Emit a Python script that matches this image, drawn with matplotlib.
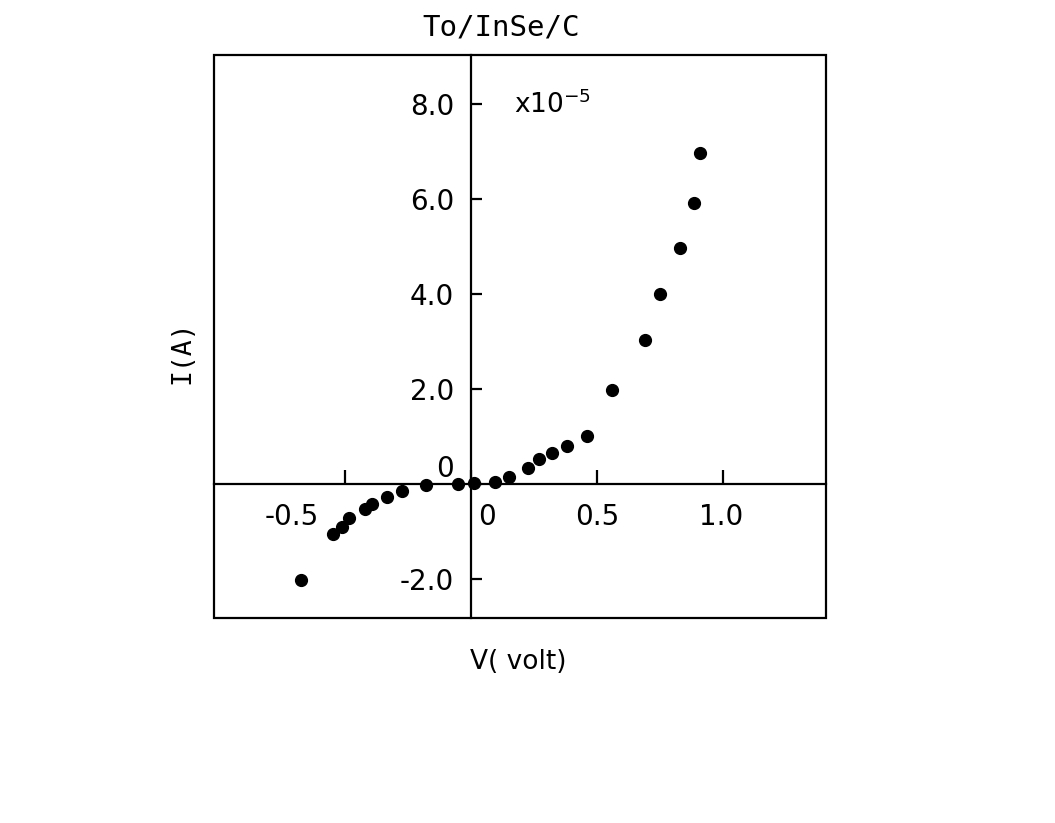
import matplotlib.pyplot as plt
from matplotlib.patches import Rectangle
from matplotlib.transforms import ScaledTranslation

# I-V points, current in units of 1e-5 A
volts = [-0.675, -0.547, -0.514, -0.484, -0.421, -0.393, -0.332, -0.275, -0.18, -0.053,
         0.012, 0.096, 0.152, 0.225, 0.27, 0.323, 0.38, 0.46, 0.56, 0.689,
         0.749, 0.828, 0.884, 0.91]
current = [-2.03, -1.06, -0.90, -0.73, -0.53, -0.42, -0.27, -0.14, -0.03, 0.0,
           0.01, 0.04, 0.15, 0.34, 0.52, 0.66, 0.80, 1.0, 1.97, 3.03,
           4.0, 4.98, 5.93, 6.97]

xticks = [-0.5, 0, 0.5, 1.0]
xtick_labels = ['-0.5', '0', '0.5', '1.0']
yticks = [-2, 0, 2, 4, 6, 8]
ytick_labels = ['-2.0', '0', '2.0', '4.0', '6.0', '8.0']

fig = plt.figure(figsize=(10.55, 8.23), dpi=100)
ax = fig.add_axes([0.203, 0.249, 0.580, 0.684])

ax.plot(volts, current, 'o', color='black', markersize=8.5)
ax.set_xlim(-1.02, 1.41)
ax.set_ylim(-2.83, 9.04)

# axes through the origin plus a box around the plot
ax.spines['top'].set_visible(False)
ax.spines['right'].set_visible(False)
ax.spines['left'].set_position(('data', 0))
ax.spines['bottom'].set_position(('data', 0))
ax.spines['left'].set_linewidth(1.6)
ax.spines['bottom'].set_linewidth(1.6)
ax.add_patch(Rectangle((0, 0), 1, 1, transform=ax.transAxes, fill=False,
                       lw=1.6, ec='black', clip_on=False))

ax.set_xticks(xticks, xtick_labels)
ax.set_yticks(yticks, ytick_labels)
ax.tick_params(direction='in', width=1.6, labelsize=20)
ax.tick_params(axis='x', length=10, pad=14)
ax.tick_params(axis='y', length=8, pad=12)

# nudge a few tick labels like in the original
x_shift = [-53, 16, 0, -2]
for lbl, dx in zip(ax.get_xticklabels(), x_shift):
    lbl.set_transform(lbl.get_transform() + ScaledTranslation(dx / 100, 0, fig.dpi_scale_trans))
y_shift = [0, 18, 0, 0, 0, 0]
for lbl, dy in zip(ax.get_yticklabels(), y_shift):
    lbl.set_transform(lbl.get_transform() + ScaledTranslation(0, dy / 100, fig.dpi_scale_trans))

ax.text(0.17, 8.0, r'x$\mathregular{10^{-5}}$', fontsize=19, va='center', ha='left')

fig.text(0.475, 0.966, 'To/InSe/C', ha='center', va='center', fontsize=21,
         family='DejaVu Sans Mono')

ax.set_ylabel('I(A)', fontsize=19, family='DejaVu Sans Mono')
ax.yaxis.set_label_coords(-0.052, 0.472)
ax.yaxis.label.set_va('center')

ax.set_xlabel('V( volt)', fontsize=19)
ax.xaxis.set_label_coords(0.497, -0.078)
ax.xaxis.label.set_va('center')

fig.savefig('out.png', dpi=100)
